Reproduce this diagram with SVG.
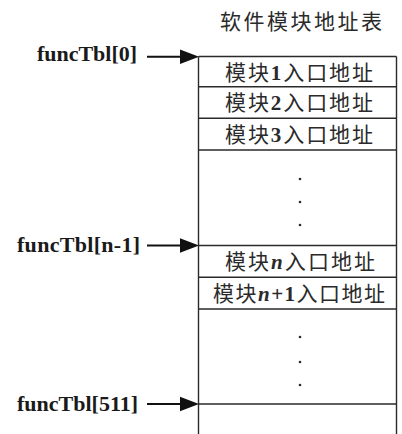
<svg xmlns="http://www.w3.org/2000/svg" width="402" height="434" viewBox="0 0 402 434">
<defs>
<style>
.ln{stroke:#2a2a2a;stroke-width:1.4;fill:none}
.ar{stroke:#111;stroke-width:2;fill:none}
.cell{font-family:"Liberation Serif","Noto Sans CJK SC",serif;font-size:21px;fill:#2a2a2a}
.lbl{font-family:"Liberation Serif",serif;font-size:22px;font-weight:bold;fill:#1a1a1a}
.dot{fill:#2a2a2a}
.ah{fill:#111}
</style>
</defs>
<rect width="402" height="434" fill="#fff"/>
<text id="title" class="cell" x="220" y="29" textLength="162" lengthAdjust="spacing">软件模块地址表</text>
<g id="table">
<path class="ln" d="M198.5 56.5V434M396.5 56.5V434M198.5 56.5H396.5M198.5 86.7H396.5M198.5 118.3H396.5M198.5 150H396.5M198.5 245.5H396.5M198.5 277.3H396.5M198.5 309H396.5M198.5 404H396.5"/>
</g>
<g id="row1"><text class="cell" x="225" y="80" textLength="148" lengthAdjust="spacing">模块<tspan font-weight="bold">1</tspan>入口地址</text></g>
<g id="row2"><text class="cell" x="225" y="110" textLength="148" lengthAdjust="spacing">模块<tspan font-weight="bold">2</tspan>入口地址</text></g>
<g id="row3"><text class="cell" x="225" y="142" textLength="148" lengthAdjust="spacing">模块<tspan font-weight="bold">3</tspan>入口地址</text></g>
<g id="dots1"><circle class="dot" cx="300" cy="179" r="1.3"/><circle class="dot" cx="300" cy="202" r="1.3"/><circle class="dot" cx="300" cy="225" r="1.3"/></g>
<g id="rown"><text class="cell" x="225" y="269" textLength="150" lengthAdjust="spacing">模块<tspan font-weight="bold" font-style="italic">n</tspan>入口地址</text></g>
<g id="rown1"><text class="cell" x="213" y="301" textLength="172" lengthAdjust="spacing">模块<tspan font-weight="bold" font-style="italic">n</tspan><tspan font-weight="bold">+1</tspan>入口地址</text></g>
<g id="dots2"><circle class="dot" cx="300" cy="337" r="1.3"/><circle class="dot" cx="300" cy="362" r="1.3"/><circle class="dot" cx="300" cy="385" r="1.3"/></g>
<g id="lbl0"><text class="lbl" x="37" y="61" textLength="100" lengthAdjust="spacing">funcTbl[0]</text></g>
<g id="lbln1"><text class="lbl" x="17" y="252" textLength="123" lengthAdjust="spacing">funcTbl[n-1]</text></g>
<g id="lbl511"><text class="lbl" x="17" y="411" textLength="121" lengthAdjust="spacing">funcTbl[511]</text></g>
<g id="connectors">
<path class="ar" d="M147 56.7H184M147 245.5H184M147 404H184"/>
<polygon class="ah" points="180,49.5 199,56.7 180,64"/>
<polygon class="ah" points="180,238.3 199,245.5 180,252.8"/>
<polygon class="ah" points="180,396.8 199,404 180,411.3"/>
</g>
</svg>
